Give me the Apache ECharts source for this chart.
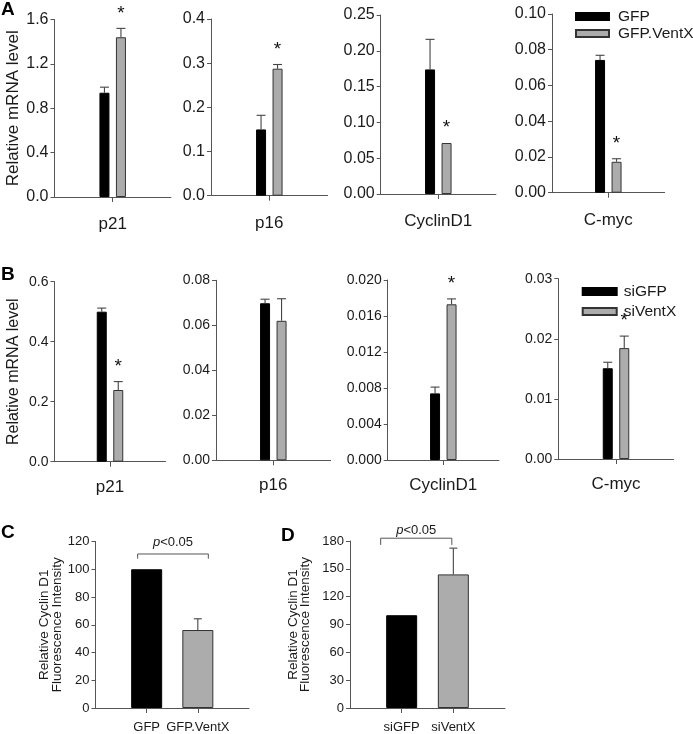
<!DOCTYPE html>
<html><head><meta charset="utf-8">
<script src="https://cdn.jsdelivr.net/npm/echarts@6/dist/echarts.min.js"></script>
<style>html,body{margin:0;padding:0;background:#fff}#c{width:693px;height:734px}</style>
</head><body><div id="c"></div>
<script>
// ---------- data ----------
const genes = ['p21', 'p16', 'CyclinD1', 'C-myc'];

// Panel A (overexpression)
const gfpA      = [0.94, 0.150, 0.174, 0.0743];
const gfpAErr   = [0.05, 0.032, 0.042, 0.0026];
const ventxA    = [1.44, 0.2875, 0.0712, 0.0173];
const ventxAErr = [0.08, 0.0095, 0, 0.0017];
const starA     = [1, 1, 1, 1];
const yMaxA  = [1.6, 0.4, 0.25, 0.10];
const yStepA = [0.4, 0.1, 0.05, 0.02];
const yDecA  = [1, 1, 2, 2];

// Panel B (knockdown)
const siGfpB      = [0.50, 0.0698, 0.0074, 0.0151];
const siGfpBErr   = [0.012, 0.0018, 0.0007, 0.0010];
const siVentxB    = [0.239, 0.062, 0.0173, 0.01845];
const siVentxBErr = [0.028, 0.0098, 0.0006, 0.0020];
const starB       = [1, 0, 1, 1];
const yMaxB  = [0.6, 0.08, 0.020, 0.03];
const yStepB = [0.2, 0.02, 0.004, 0.01];
const yDecB  = [1, 2, 3, 2];

// Panel C
const catsC = ['GFP', 'GFP.VentX'];
const valC  = [100, 56.2];
const errC  = [0, 8.1];
const bracketC = 111;
// Panel D
const catsD = ['siGFP', 'siVentX'];
const valD  = [100, 144];
const errD  = [0, 28.3];
const bracketD = 183;

// ---------- layout / style ----------
const FONT = '"Liberation Sans", Arial, Helvetica, sans-serif';
const AXIS = '#555';
const TXT = '#1a1a1a';
const GRAY = '#acacac';
const gridsA = [
  {left: 54.5, top: 19.5, width: 116.4, height: 177.5},
  {left: 211, top: 19, width: 116.6, height: 176.7},
  {left: 380.7, top: 15, width: 115.2, height: 179},
  {left: 552, top: 14, width: 112.6, height: 178.7}
];
const gridsB = [
  {left: 54.5, top: 281.7, width: 111, height: 180},
  {left: 216, top: 280.3, width: 114.6, height: 180},
  {left: 387.7, top: 280, width: 111.2, height: 180},
  {left: 558.3, top: 278.7, width: 115.4, height: 180.3}
];
const gridC = {left: 95.5, top: 541.5, width: 153.5, height: 170.2};
const gridD = {left: 350, top: 541, width: 155, height: 170};

const BAR_OFF = 8.25;
const STAR_GAP = 15;

function errRender(off, cap) {
  return function (params, api) {
    const base = api.coord([api.value(0), api.value(1)]);
    const top = api.coord([api.value(0), api.value(2)]);
    const cx = base[0] + off;
    const ch = [];
    if (api.value(2) > api.value(1)) {
      ch.push({type: 'line', shape: {x1: cx, y1: base[1], x2: cx, y2: top[1]}, style: {stroke: '#444', lineWidth: 1.1}});
      ch.push({type: 'line', shape: {x1: cx - cap / 2, y1: top[1], x2: cx + cap / 2, y2: top[1]}, style: {stroke: '#444', lineWidth: 1.1}});
    }
    if (api.value(3)) {
      ch.push({type: 'text', x: cx, y: top[1] - STAR_GAP,
        style: {text: '*', fill: '#111', font: '19px ' + FONT, align: 'center', verticalAlign: 'middle'}});
    }
    return {type: 'group', children: ch};
  };
}

function bracketRender(padL, padR, drop, textGap) {
  return function (params, api) {
    const p0 = api.coord([api.value(0), api.value(2)]);
    const p1 = api.coord([api.value(1), api.value(2)]);
    const xl = p0[0] + padL, xr = p1[0] + padR, y = p0[1];
    return {type: 'group', children: [
      {type: 'polyline', shape: {points: [[xl, y + drop], [xl, y], [xr, y], [xr, y + drop]]},
        style: {stroke: '#555', lineWidth: 1, fill: null}},
      {type: 'text', x: (xl + xr) / 2, y: y - textGap,
        style: {text: '{i|p}<0.05', align: 'center', verticalAlign: 'middle', fill: TXT,
          font: '13px ' + FONT,
          rich: {i: {fontStyle: 'italic', fontSize: 13, fontFamily: FONT, fill: TXT}}}}
    ]};
  };
}

const grid = [], xAxis = [], yAxis = [], series = [];

function addGenePanel(g, gi, gene, yMax, yStep, yDec, tickFont, catFont, catMargin, nameText, nameSize,
                      n1, v1, e1, n2, v2, e2, star) {
  grid.push(g);
  xAxis.push({type: 'category', gridIndex: gi, data: [gene],
    axisLine: {lineStyle: {color: AXIS, width: 1}},
    axisTick: {show: true, alignWithLabel: true, length: 5, lineStyle: {color: AXIS}},
    axisLabel: {color: TXT, fontSize: catFont, fontFamily: FONT, margin: catMargin}});
  yAxis.push({type: 'value', gridIndex: gi, min: 0, max: yMax, interval: yStep,
    axisLine: {show: true, lineStyle: {color: AXIS, width: 1}},
    axisTick: {show: true, length: 4, lineStyle: {color: AXIS}},
    splitLine: {show: false},
    axisLabel: {color: TXT, fontSize: tickFont, fontFamily: FONT, margin: 6,
      formatter: v => v.toFixed(yDec)},
    name: nameText || '', nameLocation: 'middle', nameRotate: 90, nameGap: 33,
    nameTextStyle: {color: TXT, fontSize: nameSize, fontFamily: FONT}});
  series.push({type: 'bar', name: n1, xAxisIndex: gi, yAxisIndex: gi, data: [v1],
    barWidth: 10, barGap: '65%', itemStyle: {color: '#000', borderColor: '#000', borderWidth: 1}, animation: false});
  series.push({type: 'bar', name: n2, xAxisIndex: gi, yAxisIndex: gi, data: [v2],
    barWidth: 10, barGap: '65%', itemStyle: {color: GRAY, borderColor: '#333', borderWidth: 1}, animation: false});
  series.push({type: 'custom', xAxisIndex: gi, yAxisIndex: gi, renderItem: errRender(-BAR_OFF, 9),
    data: [[0, v1, v1 + e1, 0]], encode: {x: 0, y: [1, 2]}, z: 5, clip: false, animation: false, silent: true});
  series.push({type: 'custom', xAxisIndex: gi, yAxisIndex: gi, renderItem: errRender(BAR_OFF, 9),
    data: [[0, v2, v2 + e2, star]], encode: {x: 0, y: [1, 2]}, z: 5, clip: false, animation: false, silent: true});
}

for (let i = 0; i < 4; i++) {
  addGenePanel(gridsA[i], grid.length, genes[i], yMaxA[i], yStepA[i], yDecA[i], 16, 17, 19,
    i === 0 ? 'Relative mRNA level' : '', 17,
    'GFP', gfpA[i], gfpAErr[i], 'GFP.VentX', ventxA[i], ventxAErr[i], starA[i]);
}
for (let i = 0; i < 4; i++) {
  addGenePanel(gridsB[i], grid.length, genes[i], yMaxB[i], yStepB[i], yDecB[i], 14, 17, 17,
    i === 0 ? 'Relative mRNA level' : '', 16,
    'siGFP', siGfpB[i], siGfpBErr[i], 'siVentX', siVentxB[i], siVentxBErr[i], starB[i]);
}

function addIFPanel(g, cats, vals, errs, yMax, yStep, bracketLevel, padL, padR, drop, textGap, nameGap) {
  const gi = grid.length;
  grid.push(g);
  const padded = [''].concat(cats).concat(['']);
  xAxis.push({type: 'category', gridIndex: gi, data: padded, boundaryGap: false,
    axisLine: {lineStyle: {color: AXIS, width: 1}},
    axisTick: {show: true, length: 5, lineStyle: {color: AXIS}, interval: (idx, v) => v !== ''},
    axisLabel: {color: TXT, fontSize: 13, fontFamily: FONT, margin: 13, interval: 0}});
  yAxis.push({type: 'value', gridIndex: gi, min: 0, max: yMax, interval: yStep,
    axisLine: {show: true, lineStyle: {color: AXIS, width: 1}},
    axisTick: {show: true, length: 4, lineStyle: {color: AXIS}},
    splitLine: {show: false},
    axisLabel: {color: TXT, fontSize: 13, fontFamily: FONT, margin: 6},
    name: 'Relative Cyclin D1\nFluorescence Intensity', nameLocation: 'middle', nameRotate: 90, nameGap: nameGap,
    nameTextStyle: {color: TXT, fontSize: 13.5, lineHeight: 12.5, fontFamily: FONT}});
  const colors = ['#000', GRAY], borders = ['#000', '#333'];
  series.push({type: 'bar', xAxisIndex: gi, yAxisIndex: gi, barWidth: 31, animation: false,
    data: ['-'].concat(vals.map((v, k) => ({value: v, itemStyle: {color: colors[k], borderColor: borders[k], borderWidth: 1}}))).concat(['-'])});
  series.push({type: 'custom', xAxisIndex: gi, yAxisIndex: gi, renderItem: errRender(0, 8),
    data: vals.map((v, k) => [k + 1, v, v + errs[k], 0]), encode: {x: 0, y: [1, 2]}, z: 5, clip: false, animation: false, silent: true});
  series.push({type: 'custom', xAxisIndex: gi, yAxisIndex: gi, renderItem: bracketRender(padL, padR, drop, textGap),
    data: [[1, 2, bracketLevel]], encode: {x: [0, 1], y: 2}, z: 5, clip: false, animation: false, silent: true});
}
addIFPanel(gridC, catsC, valC, errC, 120, 20, bracketC, -9, 10.5, 4.7, 11.5, 30);
addIFPanel(gridD, catsD, valD, errD, 180, 30, bracketD, -21, -1.5, 6.7, 8, 38);

const option = {
  animation: false,
  textStyle: {fontFamily: FONT},
  grid, xAxis, yAxis, series,
  legend: [
    {data: ['GFP', 'GFP.VentX'], orient: 'vertical', left: 575, top: 8, padding: 0, itemGap: 0,
      itemWidth: 33, itemHeight: 7, icon: 'rect', selectedMode: false,
      textStyle: {fontSize: 15.5, color: TXT, fontFamily: FONT, lineHeight: 17, padding: [0, 0, 0, 4]}},
    {data: ['siGFP', 'siVentX'], orient: 'vertical', left: 581.7, top: 283, padding: 0, itemGap: 3,
      itemWidth: 34, itemHeight: 7, icon: 'rect', selectedMode: false,
      textStyle: {fontSize: 15.5, color: TXT, fontFamily: FONT, lineHeight: 17, padding: [0, 0, 0, 2]}}
  ],
  graphic: [
    {type: 'text', left: 1, top: 0, style: {text: 'A', font: 'bold 19px ' + FONT, fill: '#000'}},
    {type: 'text', left: 1, top: 265, style: {text: 'B', font: 'bold 19px ' + FONT, fill: '#000'}},
    {type: 'text', left: 1, top: 523, style: {text: 'C', font: 'bold 19px ' + FONT, fill: '#000'}},
    {type: 'text', left: 281, top: 526, style: {text: 'D', font: 'bold 19px ' + FONT, fill: '#000'}}
  ]
};
const chart = echarts.init(document.getElementById('c'), null, {renderer: 'canvas'});
chart.setOption(option);
</script>
</body></html>
